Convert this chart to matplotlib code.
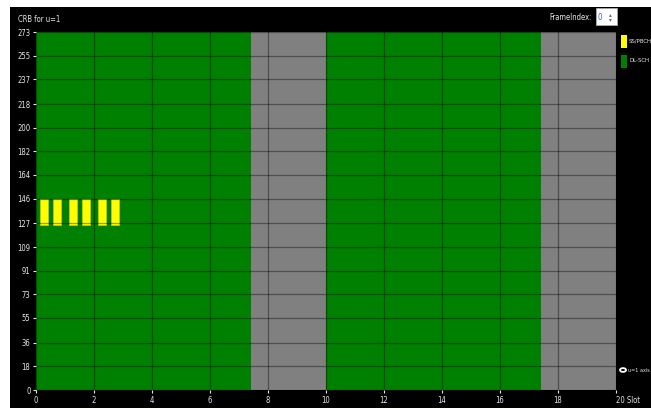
import numpy as np
import matplotlib.pyplot as plt
from matplotlib.patches import Rectangle, Circle

# Resource grid data (slots on x, common resource blocks on y)
n_slots = 20
n_crb = 273
y_ticks = [0, 18, 36, 55, 73, 91, 109, 127, 146, 164, 182, 200, 218, 237, 255, 273]
x_ticks = [0, 2, 4, 6, 8, 10, 12, 14, 16, 18, 20]
x_tick_labels = ["0", "2", "4", "6", "8", "10", "12", "14", "16", "18", "20 Slot"]

# DL-SCH spans (start slot, end slot) and non-DL gaps
dlsch_spans = [(0, 7.43), (10, 17.43)]
gap_spans = [(7.43, 10), (17.43, 20)]

# SS/PBCH blocks: start slot, length, crb range
ssb_starts = [0 + 2/14, 0 + 8/14, 1 + 2/14, 1 + 8/14, 2 + 2/14, 2 + 8/14]
ssb_len = 4/14
ssb_crb = (126, 146)

fp = dict(family='DejaVu Sans', stretch='condensed')
txt = '#e8e8e8'

fig = plt.figure(figsize=(6.51, 4.08), dpi=100, facecolor='white')
# black panel behind everything
fig.patches.append(Rectangle((10/651, 0), 641/651, 401/408, transform=fig.transFigure,
                             facecolor='black', edgecolor='none', zorder=-5))

ax = fig.add_axes([36/651, 18/408, 580/651, 358/408], zorder=2)
ax.set_facecolor('#008000')
ax.set_xlim(0, n_slots)
ax.set_ylim(0, n_crb)

for s, e in dlsch_spans:
    ax.axvspan(s, e, color='#008000', lw=0, zorder=1)
for s, e in gap_spans:
    ax.axvspan(s, e, color='#808080', lw=0, zorder=1)
for s in ssb_starts:
    ax.add_patch(Rectangle((s, ssb_crb[0]), ssb_len, ssb_crb[1] - ssb_crb[0],
                           facecolor='#ffff00', edgecolor='#c8c800', lw=0.6, zorder=2))

ax.set_xticks(x_ticks)
ax.set_xticklabels(x_tick_labels)
ax.set_yticks(y_ticks)
ax.set_yticklabels([str(v) for v in y_ticks])
ax.tick_params(colors=txt, labelsize=5.5, length=2, pad=2)
for lab in ax.get_xticklabels() + ax.get_yticklabels():
    lab.set_family(fp['family'])
    lab.set_stretch(fp['stretch'])
last = ax.get_xticklabels()[-1]
last.set_horizontalalignment('left')
ax.grid(True, color='black', alpha=0.38, lw=0.9, zorder=3)
ax.set_axisbelow(False)
for sp in ax.spines.values():
    sp.set_visible(False)

fig.text(18/651, 1 - 19/408, 'CRB for u=1', color=txt, fontsize=5.5, va='center', **fp)
fig.text(592/651, 1 - 17/408, 'FrameIndex:', color=txt, fontsize=5.5, va='center',
         ha='right', **fp)
fig.patches.append(Rectangle((596/651, 1 - 25/408), 21/651, 17/408, transform=fig.transFigure,
                             facecolor='white', edgecolor='#aaaaaa', lw=0.6, zorder=1))
fig.text(598/651, 1 - 17/408, '0', color='#4060a0', fontsize=5.5, va='center', **fp)
fig.text(609/651, 1 - 17/408, '\u25b4\n\u25be', color='#666666', fontsize=4, va='center',
         linespacing=0.9)

# legend
fig.patches.append(Rectangle((621/651, 1 - 48/408), 6/651, 13/408, transform=fig.transFigure,
                             facecolor='#ffff00', edgecolor='none'))
fig.text(629/651, 1 - 41/408, 'SS/PBCH', color=txt, fontsize=4.3, va='center', **fp)
fig.patches.append(Rectangle((621/651, 1 - 68/408), 6/651, 13/408, transform=fig.transFigure,
                             facecolor='#008000', edgecolor='none'))
fig.text(629/651, 1 - 61/408, 'DL-SCH', color=txt, fontsize=4.3, va='center', **fp)

fig.patches.append(Circle((623/651, 1 - 370/408), 3/651, transform=fig.transFigure,
                          facecolor='black', edgecolor='white', lw=1.3))
fig.text(628/651, 1 - 370/408, 'u=1 axis', color=txt, fontsize=4, va='center', **fp)

fig.savefig('out.png', dpi=100, facecolor='white')
